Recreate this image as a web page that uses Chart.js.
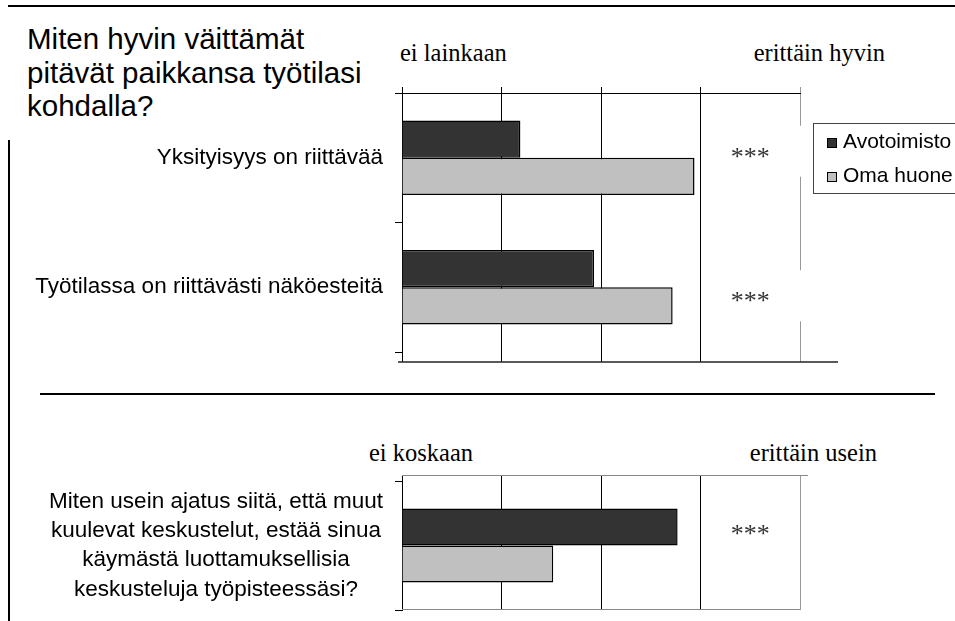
<!DOCTYPE html>
<html lang="fi">
<head>
<meta charset="utf-8">
<title>Työtilan yksityisyys</title>
<script src="https://cdn.jsdelivr.net/npm/chart.js@4.4.1/dist/chart.umd.min.js"></script>
<style>
  html, body { margin: 0; padding: 0; background: #fff; }
  body { position: relative; width: 955px; height: 621px; overflow: hidden; }
  .rule { position: absolute; background: #000; }
  .txt { position: absolute; white-space: nowrap; color: #000; }
  .serif { font-family: "Liberation Serif", "Times New Roman", serif; font-size: 24.5px; line-height: 24px; }
  #title { left: 27px; top: 22px; font-family: "Liberation Sans", Arial, sans-serif; font-size: 29.5px; line-height: 33.5px; }
  canvas { position: absolute; left: 0; }
  #topChart { top: 0; }
  #bottomChart { top: 400px; }
</style>
</head>
<body>
<div class="rule" style="left:8px; top:5px; width:947px; height:2px;"></div>
<div class="rule" style="left:8px; top:140px; width:2px; height:481px;"></div>
<div class="rule" style="left:40px; top:393px; width:895px; height:2px;"></div>

<div id="title" class="txt">Miten hyvin väittämät<br>pitävät paikkansa työtilasi<br>kohdalla?</div>

<div class="txt serif" style="left:400px; top:40.5px;">ei lainkaan</div>
<div class="txt serif" style="right:70px; top:40.5px;">erittäin hyvin</div>
<div class="txt serif" style="left:369px; top:441px;">ei koskaan</div>
<div class="txt serif" style="right:78px; top:441px;">erittäin usein</div>

<canvas id="topChart" width="955" height="380"></canvas>
<canvas id="bottomChart" width="955" height="221"></canvas>

<script>
// scale 1 = "ei lainkaan / ei koskaan", 5 = "erittäin hyvin / erittäin usein"
const scaleMin = 1;
const scaleMax = 5;

const seriesNames = ['Avotoimisto', 'Oma huone'];
const seriesColors = ['#333333', '#c0c0c0'];

const topCategories = ['Yksityisyys on riittävää', 'Työtilassa on riittävästi näköesteitä'];
const topAvotoimisto = [2.19, 2.93];
const topOmaHuone = [3.94, 3.72];
const topSignificance = ['***', '***'];

const bottomCategories = [[
  'Miten usein ajatus siitä, että muut',
  'kuulevat keskustelut, estää sinua',
  'käymästä luottamuksellisia',
  'keskusteluja työpisteessäsi?'
]];
const bottomAvotoimisto = [3.77];
const bottomOmaHuone = [2.52];
const bottomSignificance = ['***'];

Chart.defaults.font.family = '"Liberation Sans", Arial, sans-serif';

// last gridline (the max of the scale) is lighter, like the right edge of the frame
function gridColor(ctx) {
  return ctx.tick && ctx.tick.value === scaleMax ? '#999' : '#000';
}

function makeDatasets(avo, oma) {
  return [avo, oma].map((data, i) => ({
    label: seriesNames[i],
    data: data,
    base: scaleMin,
    backgroundColor: seriesColors[i],
    borderColor: '#000',
    borderWidth: 1.5,
    categoryPercentage: 0.574,
    barPercentage: 1
  }));
}

function line(ctx, x1, y1, x2, y2) {
  ctx.beginPath();
  ctx.moveTo(x1, y1);
  ctx.lineTo(x2, y2);
  ctx.stroke();
}

// extra frame lines around the plot that the axes don't draw themselves
const frameLines = {
  id: 'frameLines',
  afterDraw(chart, args, opts) {
    const { ctx, chartArea: a, scales: { x } } = chart;
    ctx.save();
    ctx.lineWidth = 1;
    if (opts.below) {
      x.ticks.forEach(t => {
        const px = Math.floor(x.getPixelForValue(t.value)) + 0.5;
        ctx.strokeStyle = gridColor({ tick: t });
        line(ctx, px, a.bottom, px, a.bottom + opts.below);
      });
      ctx.strokeStyle = '#222';
      ctx.lineWidth = 1.5;
      line(ctx, a.left - 4, a.bottom + opts.below, a.right + 38, a.bottom + opts.below);
    }
    if (opts.boxed) {
      ctx.strokeStyle = '#888';
      line(ctx, a.left, a.top - 5.5, a.right + 8, a.top - 5.5);
      line(ctx, a.left, a.bottom - 0.5, a.right, a.bottom - 0.5);
    }
    ctx.restore();
  }
};

// significance stars between the 4th and 5th gridline
const starMarks = {
  id: 'starMarks',
  afterDatasetsDraw(chart, args, opts) {
    const { ctx, scales: { x, y } } = chart;
    ctx.save();
    ctx.font = '26px "Liberation Serif", "Times New Roman", serif';
    ctx.textAlign = 'center';
    ctx.textBaseline = 'middle';
    opts.marks.forEach((mark, i) => {
      const cx = x.getPixelForValue(4.5);
      const cy = y.getPixelForValue(i) + opts.shift[i];
      if (opts.mask) {
        // the text box hides a piece of the last gridline
        const x0 = x.getPixelForValue(4.2);
        ctx.fillStyle = '#fff';
        ctx.fillRect(x0, cy - 27, x.getPixelForValue(scaleMax) + 4 - x0, 51);
      }
      ctx.fillStyle = '#333';
      ctx.fillText(mark, cx, cy + 5);
    });
    ctx.restore();
  }
};

// boxed legend to the right of the plot
const boxLegend = {
  id: 'boxLegend',
  afterDraw(chart) {
    const { ctx, chartArea: a } = chart;
    const left = a.right + 13;
    const top = 123;
    ctx.save();
    ctx.fillStyle = '#fff';
    ctx.fillRect(left, top, 150, 70);
    ctx.strokeStyle = '#444';
    ctx.lineWidth = 1;
    ctx.strokeRect(left + 0.5, top + 0.5, 150, 70);
    ctx.font = '21px "Liberation Sans", Arial, sans-serif';
    ctx.textBaseline = 'middle';
    chart.data.datasets.forEach((ds, i) => {
      const rowY = top + 19 + i * 34;
      ctx.fillStyle = ds.backgroundColor;
      ctx.fillRect(left + 14, rowY - 4, 10, 10);
      ctx.strokeStyle = '#000';
      ctx.strokeRect(left + 14.5, rowY - 3.5, 9, 9);
      ctx.fillStyle = '#000';
      ctx.fillText(ds.label, left + 30, rowY);
    });
    ctx.restore();
  }
};

function baseOptions(xHeight, padBottom, stars, extra) {
  return {
    indexAxis: 'y',
    responsive: false,
    animation: false,
    layout: { padding: { left: 0, top: 0, right: 155, bottom: padBottom } },
    plugins: Object.assign({
      legend: { display: false },
      title: { display: false },
      tooltip: { enabled: false },
      starMarks: stars
    }, extra),
    scales: {
      x: {
        type: 'linear',
        position: 'top',
        min: scaleMin,
        max: scaleMax,
        ticks: { display: false, stepSize: 1 },
        grid: { color: gridColor, tickLength: 6, lineWidth: 1 },
        border: { display: true, color: '#000', width: 1 },
        afterFit: s => { s.height = xHeight; }
      },
      y: {
        position: 'left',
        grid: { drawOnChartArea: false, tickLength: 7, color: '#000' },
        border: { color: '#000', width: 1 },
        ticks: {
          color: '#000',
          padding: 12,
          crossAlign: 'center',
          font: { size: 22.5, lineHeight: 1.3 }
        },
        afterFit: s => {
          s.width = 402;
          // tall multi-line labels must not shrink the plot
          s.paddingTop = 0;
          s.paddingBottom = 0;
        }
      }
    }
  };
}

const topOpts = baseOptions(93, 28,
  { marks: topSignificance, shift: [-5, 10], mask: true },
  { frameLines: { below: 10 } });
topOpts.scales.y.ticks.crossAlign = 'near';

new Chart(document.getElementById('topChart'), {
  type: 'bar',
  data: { labels: topCategories, datasets: makeDatasets(topAvotoimisto, topOmaHuone) },
  options: topOpts,
  plugins: [frameLines, starMarks, boxLegend]
});

const bottomOpts = baseOptions(81, 11,
  { marks: bottomSignificance, shift: [-15], mask: false },
  { frameLines: { boxed: true } });
bottomOpts.scales.x.border.display = false;

new Chart(document.getElementById('bottomChart'), {
  type: 'bar',
  data: { labels: bottomCategories, datasets: makeDatasets(bottomAvotoimisto, bottomOmaHuone) },
  options: bottomOpts,
  plugins: [frameLines, starMarks]
});
</script>
</body>
</html>
